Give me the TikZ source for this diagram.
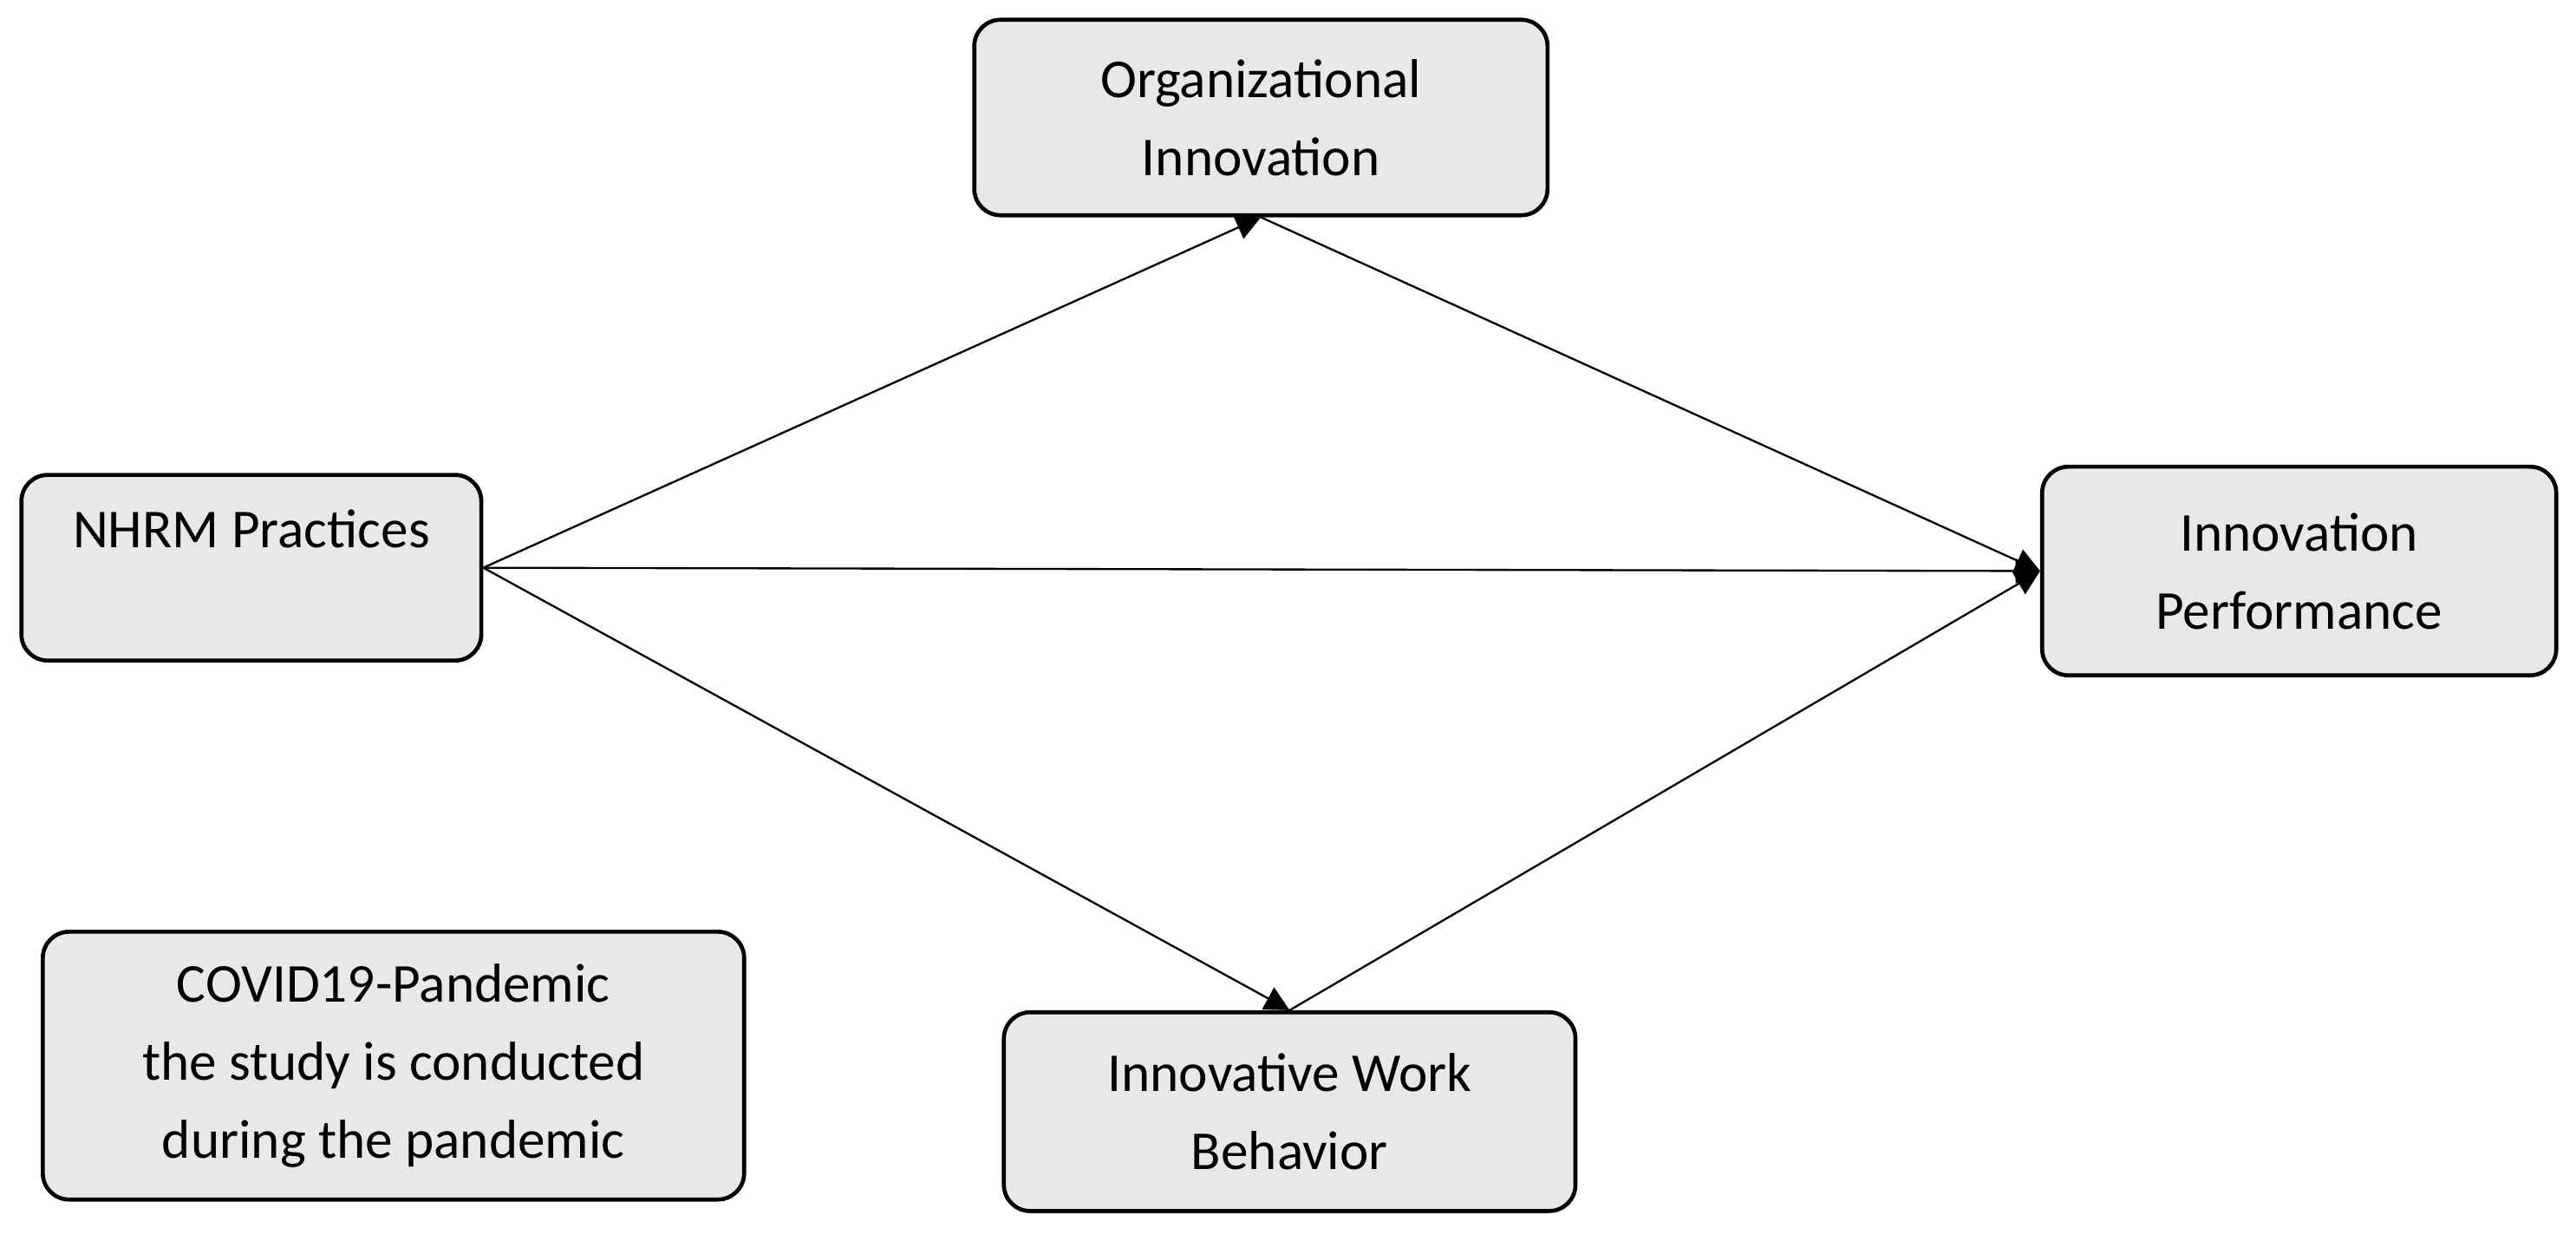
\documentclass[tikz,border=0pt]{standalone}
\usepackage{fontspec}
\setmainfont{Carlito}
\usetikzlibrary{arrows.meta, positioning}
\tikzset{
    concept/.style={
        rectangle, rounded corners=0.32cm, draw=black, line width=1.4pt, fill=gray!18, align=center,
        font=\fontsize{19}{27}\selectfont
    },
    arrow/.style={
        line width=0.7pt, -{Triangle[length=0.3cm, width=0.3cm]}
    }
}
\begin{document}
\begin{tikzpicture}[x=0.02cm, y=-0.02cm]
    \useasboundingbox (0,0) rectangle (1568,755);

    % Nodes
    \node (org) [concept, minimum width=6.98cm, minimum height=2.38cm] at (767.5,71.5) {Organizational\\Innovation};
    \node (nhrm) [concept, minimum width=5.6cm, minimum height=2.26cm] at (153,345.5) {NHRM Practices\\\mbox{}};
    \node (perf) [concept, minimum width=6.26cm, minimum height=2.54cm] at (1399.5,347.5) {Innovation\\Performance};
    \node (iwb) [concept, minimum width=6.96cm, minimum height=2.42cm] at (785,676.5) {Innovative Work\\Behavior};
    \node (covid) [concept, minimum width=8.54cm, minimum height=3.26cm] at (239.5,648.5) {COVID19-Pandemic\\the study is conducted\\during the pandemic};

    % Connections
    \draw [arrow] (nhrm.east) -- (org.south);
    \draw [arrow] (nhrm.east) -- (perf.west);
    \draw [arrow] (nhrm.east) -- (iwb.north);
    \draw [arrow] (org.south) -- (perf.west);
    \draw [arrow] (iwb.north) -- (perf.west);
\end{tikzpicture}
\end{document}
